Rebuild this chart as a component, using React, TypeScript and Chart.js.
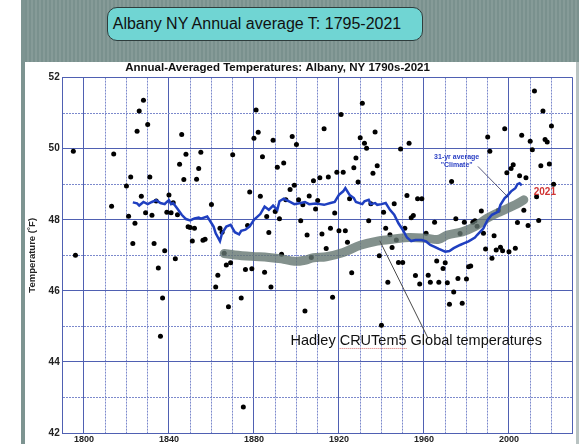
import React, { useEffect, useRef } from 'react';
import { Chart, registerables } from 'chart.js';
Chart.register(...registerables);

const FONT = 'Arial, "Liberation Sans", Helvetica, sans-serif';

// Albany annual mean temperature (°F)
const obsYears = [
  1795, 1796, 1813, 1814, 1820, 1821, 1822, 1823, 1824, 1825, 1826, 1827, 1828, 1829,
  1830, 1831, 1832, 1833, 1834, 1835, 1836, 1837, 1838, 1839, 1840, 1841, 1842, 1843,
  1844, 1845, 1846, 1847, 1848, 1849, 1850, 1851, 1852, 1853, 1854, 1855, 1856, 1857,
  1860, 1862, 1863, 1864, 1865, 1866, 1867, 1868, 1869, 1870, 1874, 1875, 1876, 1877,
  1878, 1879, 1880, 1881, 1882, 1883, 1884, 1885, 1886, 1887, 1888, 1889, 1890, 1891,
  1892, 1893, 1894, 1895, 1897, 1898, 1899, 1900, 1901, 1902, 1903, 1904, 1905, 1906,
  1907, 1908, 1909, 1910, 1911, 1912, 1913, 1914, 1915, 1916, 1917, 1918, 1919, 1920,
  1921, 1922, 1923, 1924, 1925, 1926, 1927, 1928, 1929, 1930, 1931, 1932, 1933, 1934,
  1935, 1936, 1937, 1938, 1939, 1940, 1941, 1942, 1943, 1944, 1945, 1946, 1947, 1948,
  1949, 1950, 1951, 1952, 1953, 1954, 1955, 1956, 1957, 1958, 1959, 1961, 1962, 1963,
  1965, 1966, 1967, 1969, 1970, 1971, 1972, 1973, 1974, 1975, 1976, 1977, 1978, 1979,
  1980, 1981, 1982, 1983, 1984, 1985, 1987, 1988, 1989, 1990, 1991, 1992, 1993, 1994,
  1995, 1996, 1997, 1998, 1999, 2000, 2001, 2002, 2003, 2004, 2005, 2006, 2007, 2008,
  2009, 2010, 2011, 2012, 2013, 2014, 2015, 2016, 2017, 2018, 2019, 2020, 2021,
];
const obsTemps = [
  49.93, 47.0, 48.38, 49.85, 48.95, 48.1, 49.2, 47.33, 47.9, 50.49, 51.06, 48.66, 51.36, 48.2,
  50.68, 49.2, 48.13, 47.33, 48.53, 46.64, 44.72, 45.8, 47.13, 48.21, 48.7, 48.2, 48.48, 46.9,
  48.14, 49.56, 50.4, 49.13, 49.84, 47.8, 47.78, 47.4, 47.76, 49.14, 49.44, 49.9, 47.42, 47.45,
  48.43, 46.11, 46.44, 47.76, 47.65, 47.06, 46.73, 45.55, 46.79, 49.83, 45.8, 42.73, 46.6, 47.84,
  48.78, 46.62, 50.29, 51.09, 50.46, 48.66, 49.77, 46.52, 48.09, 47.64, 46.11, 50.24, 48.23, 49.48,
  48.03, 47.03, 49.6, 48.56, 48.85, 50.34, 48.97, 50.12, 48.56, 47.97, 48.42, 45.43, 47.57, 48.67,
  46.94, 49.1, 48.3, 48.54, 49.18, 47.6, 50.56, 47.19, 49.2, 47.76, 45.82, 48.19, 49.34, 47.69,
  50.96, 49.34, 47.69, 47.37, 48.59, 46.51, 49.46, 49.74, 49.06, 50.31, 51.28, 50.15, 50.01, 47.97,
  48.45, 49.31, 50.47, 49.52, 46.99, 45.03, 48.21, 47.76, 46.24, 47.58, 47.22, 48.45, 47.43, 46.8,
  49.99, 46.8, 47.76, 48.68, 50.15, 48.06, 48.12, 46.43, 48.59, 46.19, 48.59, 47.62, 46.44, 46.24,
  47.93, 46.84, 46.24, 46.63, 46.79, 46.23, 45.62, 49.08, 45.97, 48.03, 46.35, 47.61, 45.65, 47.93,
  46.33, 46.68, 46.7, 47.93, 47.97, 47.82, 48.25, 47.62, 47.18, 50.33, 49.93, 46.92, 47.55, 47.15,
  48.26, 47.23, 47.13, 50.56, 49.32, 47.1, 49.44, 49.55, 47.2, 47.92, 49.24, 50.38, 48.27, 49.18,
  47.84, 50.21, 49.97, 51.62, 48.65, 47.98, 49.52, 51.06, 50.26, 50.19, 49.57, 50.64, 49.0,
];

// 31-yr average "Climate"
const climateYears = [
  1823, 1825, 1826, 1828, 1830, 1832, 1834, 1836, 1838, 1839, 1840, 1841, 1842, 1844, 1846,
  1848, 1850, 1852, 1854, 1855, 1858, 1859, 1861, 1862, 1864, 1865, 1867, 1869, 1871, 1873,
  1874, 1876, 1878, 1880, 1883, 1885, 1887, 1889, 1891, 1892, 1894, 1897, 1899, 1902, 1904,
  1906, 1909, 1911, 1913, 1916, 1918, 1920, 1922, 1923, 1925, 1927, 1928, 1931, 1932, 1934,
  1935, 1937, 1938, 1940, 1942, 1944, 1946, 1948, 1950, 1952, 1954, 1956, 1959, 1961, 1963,
  1965, 1967, 1970, 1972, 1974, 1977, 1979, 1981, 1984, 1985, 1988, 1990, 1992, 1995, 1996,
  1998, 1999, 2001, 2003, 2004, 2005, 2006,
];
const climateTemps = [
  48.49, 48.46, 48.4, 48.5, 48.44, 48.5, 48.55, 48.47, 48.44, 48.5, 48.55, 48.44, 48.47, 48.31, 48.14,
  48.02, 47.98, 48.04, 48.06, 48.03, 48.09, 48.0, 47.81, 47.62, 47.4, 47.62, 47.81, 47.86, 47.65, 47.59,
  47.69, 47.72, 47.81, 48.0, 48.16, 48.37, 48.28, 48.4, 48.28, 48.52, 48.59, 48.5, 48.44, 48.47, 48.5,
  48.44, 48.46, 48.44, 48.42, 48.47, 48.5, 48.7, 48.8, 48.89, 48.7, 48.61, 48.5, 48.44, 48.52, 48.56,
  48.44, 48.47, 48.42, 48.44, 48.47, 48.28, 48.14, 47.9, 47.72, 47.5, 47.4, 47.43, 47.43, 47.39, 47.29,
  47.24, 47.18, 47.1, 47.12, 47.2, 47.29, 47.34, 47.39, 47.5, 47.57, 47.76, 48.0, 48.14, 48.23, 48.42,
  48.61, 48.66, 48.8, 48.89, 49.0, 49.03, 48.97,
];

// Hadley CRUTem5 global temperatures (offset to the °F axis)
const hadleyYears = [
  1866, 1871, 1879, 1887, 1893, 1899, 1904, 1908, 1914, 1922, 1930, 1938,
  1946, 1953, 1961, 1967, 1971, 1978, 1984, 1990, 1996, 2003, 2007,
];
const hadleyTemps = [
  47.05, 47.01, 46.97, 46.94, 46.9, 46.83, 46.86, 46.93, 46.96, 47.08, 47.28, 47.4,
  47.46, 47.5, 47.48, 47.45, 47.57, 47.66, 47.81, 48.05, 48.23, 48.42, 48.56,
];

const xTickLabels = [1800, 1840, 1880, 1920, 1960, 2000];
const yTickLabels = [42, 44, 46, 48, 50, 52];

const mainTitle = 'Albany NY Annual average T: 1795-2021';
const chartTitle = 'Annual-Averaged Temperatures: Albany, NY 1790s-2021';
const yTitle = 'Temperature (˚F)';
const hadleyLabel = 'Hadley CRUTem5 Global temperatures';
const climateLabel = ['31-yr average', '"Climate"'];
const lastYearLabel = '2021';

// annotation anchors in data coordinates [year, °F]
const hadleyTextAt = [1897.2, 44.59];
const hadleyArrow = [[1961.9, 44.67], [1939.2, 47.41]];
const climateTextAt = [1975.4, 49.66];
const climateArrow = [[1985.4, 49.5], [1999.5, 48.64]];
const lastYearAt = [2016.9, 48.77];

const MAJOR = '#4f60b2';
const MINOR = '#7c89cc';

const framePlugin = {
  id: 'frame',
  beforeDraw(chart: any) {
    const { ctx, width, height } = chart;
    ctx.save();
    ctx.fillStyle = '#ffffff';
    ctx.fillRect(0, 0, width, height);
    for (let x = 21; x < width; x += 2) {
      ctx.fillStyle = ((x - 21) / 2) % 2 === 0 ? '#7a918e' : '#869b98';
      ctx.fillRect(x, 0, 2, 62);
    }
    ctx.fillStyle = '#7d9491';
    ctx.fillRect(21, 0, 4, height);
    ctx.fillStyle = '#b9c3c2';
    ctx.fillRect(576, 62, 3, height - 62);
    ctx.fillStyle = '#111';
    ctx.font = `bold 11.5px ${FONT}`;
    ctx.textAlign = 'center';
    ctx.textBaseline = 'middle';
    ctx.fillText(chartTitle, 277.5, 68);
    ctx.restore();
  },
};

const annotationPlugin = {
  id: 'notes',
  afterDatasetsDraw(chart: any) {
    const { ctx } = chart;
    const xs = chart.scales.x;
    const ys = chart.scales.y;
    const px = (p: number[]) => [xs.getPixelForValue(p[0]), ys.getPixelForValue(p[1])];
    ctx.save();
    const [h1, h2] = hadleyArrow.map(px);
    ctx.strokeStyle = '#4a4a4a';
    ctx.lineWidth = 1;
    ctx.beginPath();
    ctx.moveTo(h1[0], h1[1]);
    ctx.lineTo(h2[0], h2[1]);
    ctx.stroke();
    const ht = px(hadleyTextAt);
    ctx.font = `14.5px ${FONT}`;
    ctx.textAlign = 'left';
    ctx.textBaseline = 'middle';
    ctx.fillStyle = '#111';
    ctx.fillText(hadleyLabel, ht[0], ht[1]);
    const pre = ctx.measureText('Hadley ').width;
    const word = ctx.measureText('CRUTem5').width;
    ctx.strokeStyle = '#d86a6a';
    ctx.setLineDash([1, 1]);
    ctx.beginPath();
    ctx.moveTo(ht[0] + pre, ht[1] + 7.5);
    ctx.lineTo(ht[0] + pre + word, ht[1] + 7.5);
    ctx.stroke();
    ctx.setLineDash([]);
    const [c1, c2] = climateArrow.map(px);
    ctx.strokeStyle = '#30305a';
    ctx.lineWidth = 0.8;
    ctx.beginPath();
    ctx.moveTo(c1[0], c1[1]);
    ctx.lineTo(c2[0], c2[1]);
    ctx.stroke();
    const ct = px(climateTextAt);
    ctx.font = `bold 7px ${FONT}`;
    ctx.textAlign = 'center';
    ctx.fillStyle = '#2a3fc4';
    ctx.fillText(climateLabel[0], ct[0], ct[1] - 4);
    ctx.fillText(climateLabel[1], ct[0], ct[1] + 4);
    const lt = px(lastYearAt);
    ctx.font = `bold 10px ${FONT}`;
    ctx.fillStyle = '#d03434';
    ctx.fillText(lastYearLabel, lt[0], lt[1]);
    ctx.restore();
  },
};

const isMajorX = (v: number) => xTickLabels.includes(v) || v === 1790 || v === 2030;
const isMajorY = (v: number) => yTickLabels.includes(v);

export default function App() {
  const ref = useRef<HTMLCanvasElement>(null);
  useEffect(() => {
    const obs = obsYears.map((y, i) => ({ x: y, y: obsTemps[i] }));
    const clim = climateYears.map((y, i) => ({ x: y, y: climateTemps[i] }));
    const had = hadleyYears.map((y, i) => ({ x: y, y: hadleyTemps[i] }));
    const chart = new Chart(ref.current as HTMLCanvasElement, {
      type: 'scatter',
      data: {
        datasets: [
          {
            label: '31-yr average',
            data: clim,
            showLine: true,
            borderColor: '#1f3fc0',
            borderWidth: 2.5,
            pointRadius: 0,
            tension: 0,
            fill: false,
          },
          {
            label: 'Hadley CRUTem5',
            data: had,
            showLine: true,
            borderColor: 'rgba(100,118,112,0.8)',
            borderWidth: 9,
            borderCapStyle: 'round',
            pointRadius: 0,
            tension: 0.35,
            fill: false,
          },
          {
            label: 'Albany',
            data: obs,
            pointRadius: 2.5,
            pointBorderWidth: 0,
            pointBackgroundColor: '#000',
            backgroundColor: '#000',
            borderColor: '#000',
          },
        ],
      } as any,
      options: {
        responsive: false,
        animation: false,
        devicePixelRatio: 1,
        layout: { padding: { top: 77.6, left: 0, right: 6.3, bottom: 0 } },
        plugins: {
          legend: { display: false },
          tooltip: { enabled: false },
          title: { display: false },
        },
        scales: {
          x: {
            type: 'linear',
            min: 1790,
            max: 2030,
            afterFit: (s: any) => { s.height = 11; },
            ticks: {
              stepSize: 10,
              autoSkip: false,
              maxRotation: 0,
              padding: 1,
              color: '#222',
              font: { family: FONT, size: 9, weight: 'bold' },
              callback: (v: any) => (xTickLabels.includes(v) ? String(v) : ''),
            },
            grid: {
              drawTicks: false,
              lineWidth: 1,
              color: (c: any) => (c.tick && isMajorX(c.tick.value) ? MAJOR : MINOR),
            },
            border: {
              color: MAJOR,
              width: 1,
              dash: (c: any) => (c.tick && !isMajorX(c.tick.value) ? [2, 1] : []),
            },
          },
          y: {
            min: 42,
            max: 52,
            afterFit: (s: any) => { s.width = 62.7; },
            ticks: {
              stepSize: 1,
              padding: 3,
              color: '#222',
              font: { family: FONT, size: 10, weight: 'bold' },
              callback: (v: any) => (yTickLabels.includes(v) ? String(v) : ''),
            },
            title: {
              display: true,
              text: yTitle,
              color: '#222',
              font: { family: FONT, size: 9.5, weight: 'bold' },
              padding: { top: 26.5, bottom: 0 },
            },
            grid: {
              drawTicks: false,
              lineWidth: 1,
              color: (c: any) => (c.tick && isMajorY(c.tick.value) ? MAJOR : MINOR),
            },
            border: {
              color: MAJOR,
              width: 1,
              dash: (c: any) => (c.tick && !isMajorY(c.tick.value) ? [2, 1] : []),
            },
          },
        },
      } as any,
      plugins: [framePlugin, annotationPlugin],
    });
    return () => chart.destroy();
  }, []);

  return (
    <div style={{ position: 'absolute', left: 0, top: 0, width: 579, height: 444, overflow: 'hidden', background: '#fff' }}>
      <canvas ref={ref} width={579} height={444} style={{ display: 'block', width: 579, height: 444 }} />
      <div
        style={{
          position: 'absolute',
          left: 107,
          top: 7,
          width: 316,
          height: 34,
          boxSizing: 'border-box',
          background: '#70d5d3',
          border: '1px solid #2e3d3d',
          borderRadius: 10,
          font: `16px ${FONT}`,
          color: '#111',
          display: 'flex',
          alignItems: 'center',
          justifyContent: 'center',
          paddingRight: 16,
          whiteSpace: 'nowrap',
        }}
      >
        {mainTitle}
      </div>
    </div>
  );
}
